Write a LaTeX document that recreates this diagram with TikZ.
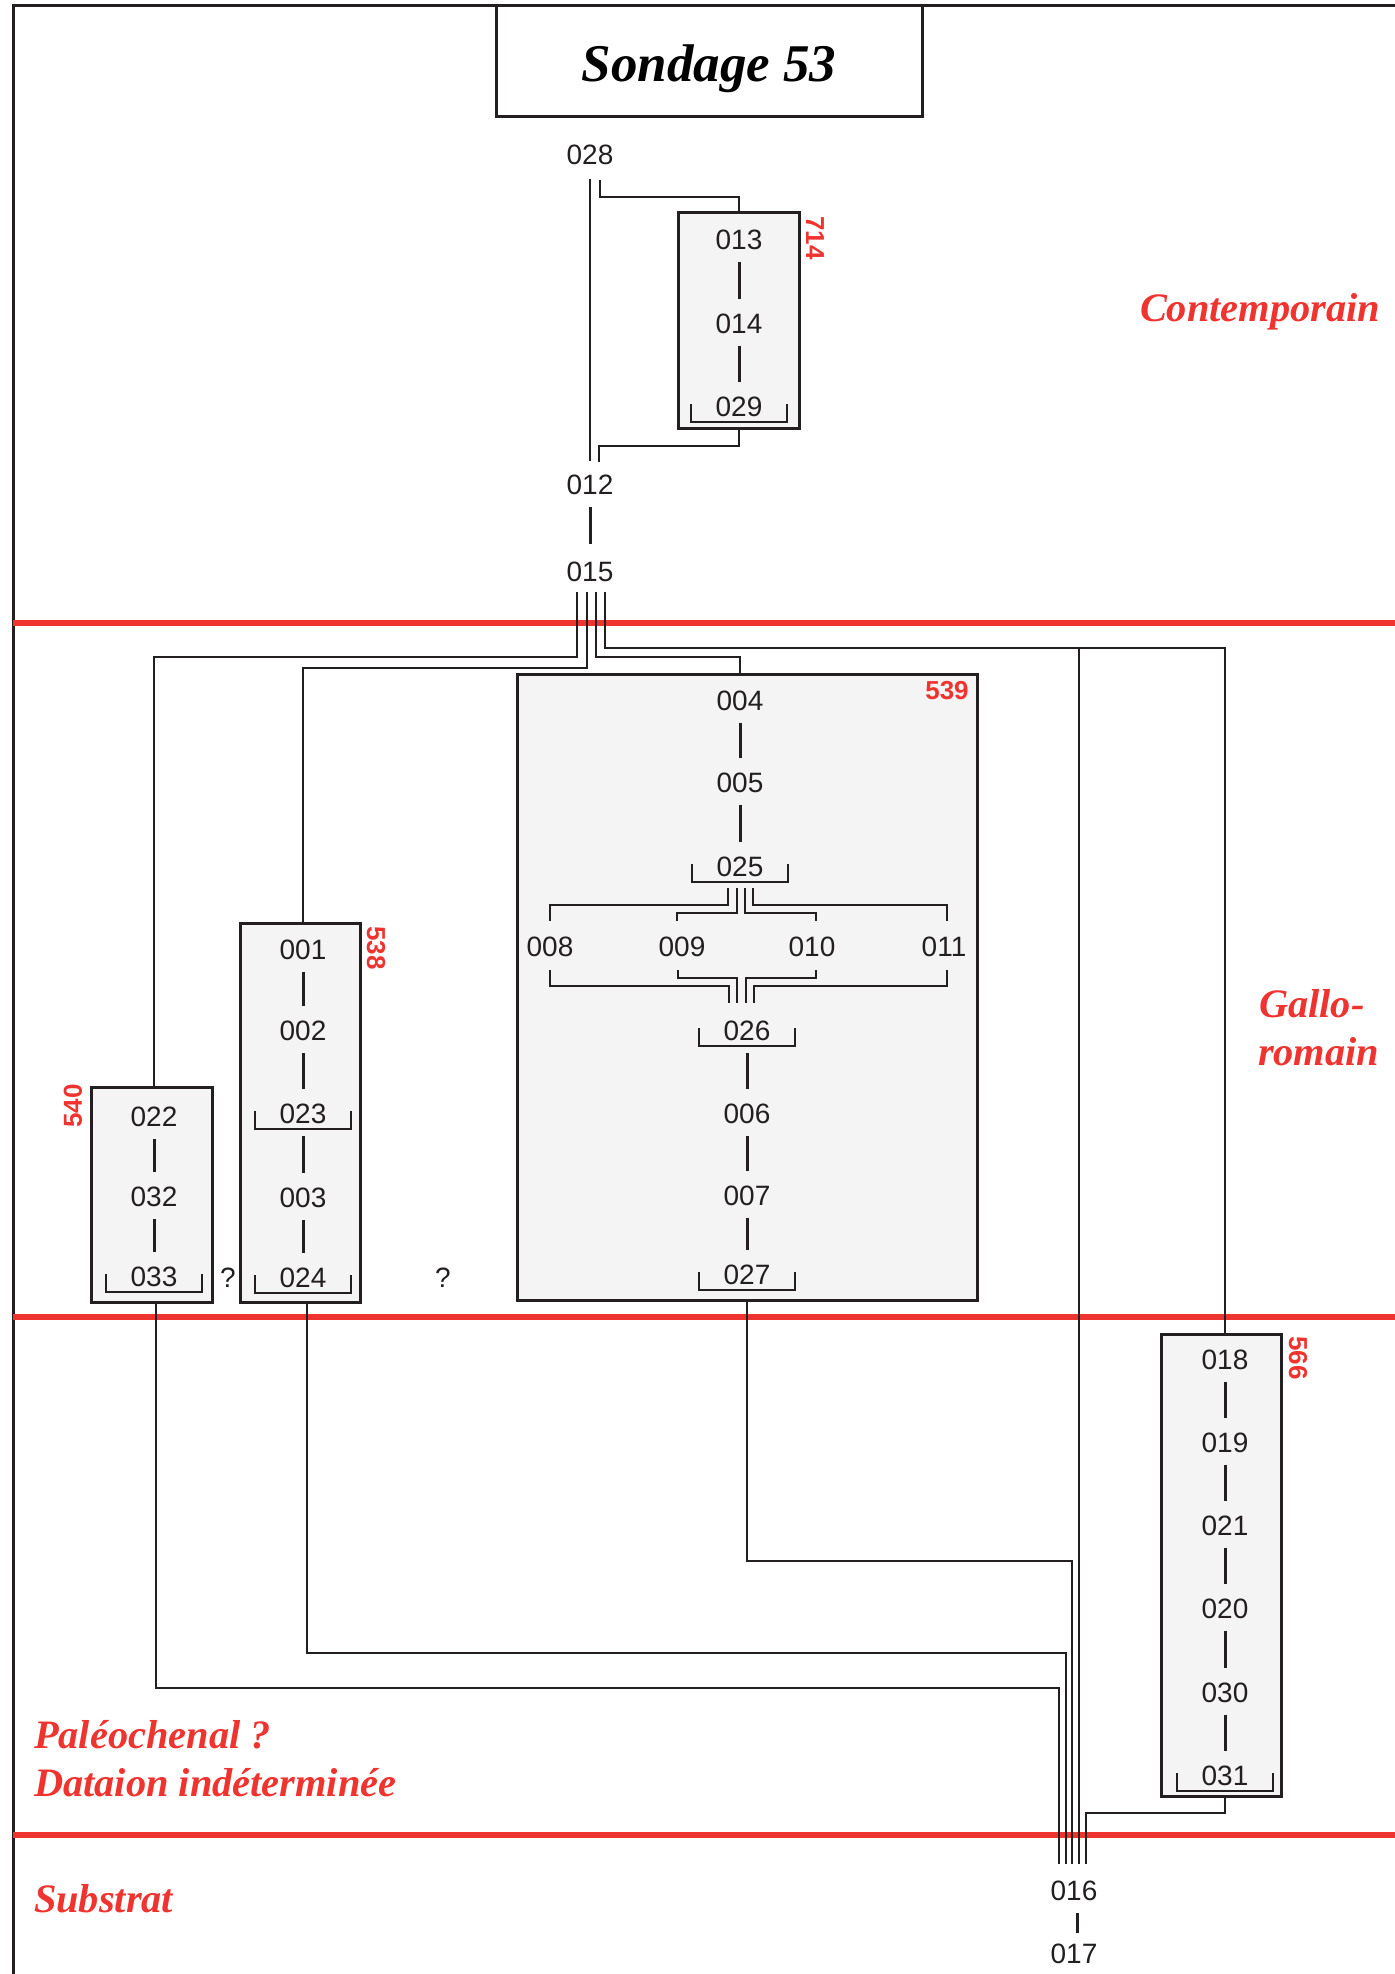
\documentclass[tikz,border=0pt]{standalone}
\usepackage{fontspec}
\setmainfont{Liberation Serif}
\setsansfont{Liberation Sans}
\usetikzlibrary{calc,fit}
\definecolor{zred}{RGB}{239,51,47}
\definecolor{ink}{RGB}{35,31,32}
\definecolor{boxgrey}{RGB}{244,244,244}
\tikzset{
  every node/.style={inner sep=0pt, outer sep=0pt},
  unit/.style={font=\sffamily\fontsize{14}{16}\selectfont, text=ink},
  cline/.style={draw=ink, line width=1.3pt},
  bar/.style={draw=ink, line width=1.5pt, shorten <=6pt, shorten >=7.7pt},
  grp/.style={draw=ink, line width=1.5pt, fill=boxgrey, inner sep=0pt},
  grplabel/.style={font=\sffamily\bfseries\fontsize{13}{15}\selectfont, text=zred},
  zone/.style={font=\rmfamily\bfseries\itshape\fontsize{20.2}{24}\selectfont, text=zred, anchor=base west},
  redline/.style={draw=zred, line width=2.75pt},
}
\newcommand{\unitbracket}[1]{\draw[cline] ($(#1)+(-48,-3)$) -- ($(#1)+(-48,15)$) -- ($(#1)+(48,15)$) -- ($(#1)+(48,-3)$);}
\begin{document}
\begin{tikzpicture}[x=0.5pt,y=-0.5pt]
\useasboundingbox (0,0) rectangle (1395,1974);
% frame
\draw[draw=ink, line width=1.5pt] (13,1974) -- (13,6) -- (1395,6);
% period limits
\draw[redline] (13,623) -- (1395,623);
\draw[redline] (13,1317) -- (1395,1317);
\draw[redline] (13,1835) -- (1395,1835);
% title
\node[draw=ink, line width=1.5pt, fill=white, fit={(496,6)(922,117)}] (titlebox) {};
\node[font=\rmfamily\bfseries\itshape\fontsize{26.5}{30}\selectfont, text=black, anchor=base] (title) at (709,82) {Sondage 53};
% groups
\node[grp, fit={(678,213)(799,428)}] (b714) {};
\node[grp, fit={(517,674)(977,1300)}] (b539) {};
\node[grp, fit={(240,923)(360,1302)}] (b538) {};
\node[grp, fit={(91,1087)(212,1302)}] (b540) {};
\node[grp, fit={(1161,1334)(1281,1796)}] (b566) {};
% group labels
\node[grplabel, rotate=-90] (l714) at (815,238) {714};
\node[grplabel] (l539) at (947,691) {539};
\node[grplabel, rotate=-90] (l538) at (376,948) {538};
\node[grplabel, rotate=90] (l540) at (73,1106) {540};
\node[grplabel, rotate=-90] (l566) at (1298,1358) {566};
% units
\node[unit] (n028) at (590,155) {028};
\node[unit] (n013) at (739,240) {013};
\node[unit] (n014) at (739,324) {014};
\node[unit] (n029) at (739,407) {029};
\node[unit] (n012) at (590,485) {012};
\node[unit] (n015) at (590,572) {015};
\node[unit] (n004) at (740,701) {004};
\node[unit] (n005) at (740,783) {005};
\node[unit] (n025) at (740,867) {025};
\node[unit] (n008) at (550,947) {008};
\node[unit] (n009) at (682,947) {009};
\node[unit] (n010) at (812,947) {010};
\node[unit] (n011) at (944,947) {011};
\node[unit] (n026) at (747,1031) {026};
\node[unit] (n006) at (747,1114) {006};
\node[unit] (n007) at (747,1196) {007};
\node[unit] (n027) at (747,1275) {027};
\node[unit] (n001) at (303,950) {001};
\node[unit] (n002) at (303,1031) {002};
\node[unit] (n023) at (303,1114) {023};
\node[unit] (n003) at (303,1198) {003};
\node[unit] (n024) at (303,1278) {024};
\node[unit] (n022) at (154,1117) {022};
\node[unit] (n032) at (154,1197) {032};
\node[unit] (n033) at (154,1277) {033};
\node[unit] (n018) at (1225,1360) {018};
\node[unit] (n019) at (1225,1443) {019};
\node[unit] (n021) at (1225,1526) {021};
\node[unit] (n020) at (1225,1609) {020};
\node[unit] (n030) at (1225,1693) {030};
\node[unit] (n031) at (1225,1776) {031};
\node[unit] (n016) at (1074,1891) {016};
\node[unit] (n017) at (1074,1954) {017};
\node[unit] (q1) at (228,1278) {?};
\node[unit] (q2) at (443,1278) {?};
% zone names
\node[zone] (zc) at (1140,322) {Contemporain};
\node[zone] (zg1) at (1259,1017) {Gallo-};
\node[zone] (zg2) at (1258,1065) {romain};
\node[zone] (zp1) at (34,1748) {Paléochenal ?};
\node[zone] (zp2) at (34,1796) {Dataion indéterminée};
\node[zone] (zs) at (34,1912) {Substrat};
% brackets
\unitbracket{n029}
\unitbracket{n025}
\unitbracket{n026}
\unitbracket{n027}
\unitbracket{n023}
\unitbracket{n024}
\unitbracket{n033}
\unitbracket{n031}
% bars
\draw[bar] (n013) -- (n014);
\draw[bar] (n014) -- (n029);
\draw[bar, shorten >=9.2pt] (n012) -- (n015);
\draw[bar] (n004) -- (n005);
\draw[bar] (n005) -- (n025);
\draw[bar] (n026) -- (n006);
\draw[bar] (n006) -- (n007);
\draw[bar] (n007) -- (n027);
\draw[bar] (n001) -- (n002);
\draw[bar] (n002) -- (n023);
\draw[bar] (n023) -- (n003);
\draw[bar] (n003) -- (n024);
\draw[bar] (n022) -- (n032);
\draw[bar] (n032) -- (n033);
\draw[bar] (n018) -- (n019);
\draw[bar] (n019) -- (n021);
\draw[bar] (n021) -- (n020);
\draw[bar] (n020) -- (n030);
\draw[bar] (n030) -- (n031);
\draw[bar, shorten <=0pt, shorten >=0pt] ($(n016)+(3,22)$) -- ($(n017)+(3,-21)$);
% connectors top
\draw[cline, shorten <=7.2pt, shorten >=7.2pt] (n028) -- (n012);
\draw[cline] ($(n028)+(10,25)$) |- ($(n013 |- b714.north)+(0,-16)$) -- (n013 |- b714.north);
\draw[cline] (n029 |- b714.south) |- ($(n012)+(9,-39)$) -- ($(n012)+(9,-23)$);
% 015 fan-out
\draw[cline] ($(n015)+(-13,20)$) |- ($(n022 |- b540.north)+(0,-430)$) -- (n022 |- b540.north);
\draw[cline] ($(n015)+(-3,20)$) |- ($(n001 |- b538.north)+(0,-255)$) -- (n001 |- b538.north);
\draw[cline] ($(n015)+(6,20)$) |- ($(n004 |- b539.north)+(0,-17)$) -- (n004 |- b539.north);
\draw[cline] ($(n015)+(15,20)$) |- ($(n018 |- b566.north)+(0,-686)$) -- (n018 |- b566.north);
\draw[cline] ($(n015)+(15,20)$) |- ($(n016)+(5,-1243)$) -- ($(n016)+(5,-27)$);
% inside 539
\draw[cline] ($(n025)+(-12,21)$) |- ($(n008)+(0,-42)$) -- ($(n008)+(0,-26)$);
\draw[cline] ($(n025)+(-3,21)$) |- ($(n009)+(-5,-34)$) -- ($(n009)+(-5,-26)$);
\draw[cline] ($(n025)+(5,21)$) |- ($(n010)+(4,-34)$) -- ($(n010)+(4,-26)$);
\draw[cline] ($(n025)+(13,21)$) |- ($(n011)+(3,-42)$) -- ($(n011)+(3,-26)$);
\draw[cline] ($(n008)+(0,23)$) |- ($(n026)+(-18,-45)$) -- ($(n026)+(-18,-28)$);
\draw[cline] ($(n009)+(-4,23)$) |- ($(n026)+(-10,-53)$) -- ($(n026)+(-10,-28)$);
\draw[cline] ($(n010)+(4,23)$) |- ($(n026)+(-1,-53)$) -- ($(n026)+(-1,-28)$);
\draw[cline] ($(n011)+(3,23)$) |- ($(n026)+(7,-45)$) -- ($(n026)+(7,-28)$);
% fan-in to 016
\draw[cline] (n027 |- b539.south) |- ($(n016)+(-2,-330)$) -- ($(n016)+(-2,-27)$);
\draw[cline] ($(n024 |- b538.south)+(4,0)$) |- ($(n016)+(-8,-238)$) -- ($(n016)+(-8,-27)$);
\draw[cline] ($(n033 |- b540.south)+(2,0)$) |- ($(n016)+(-15,-203)$) -- ($(n016)+(-15,-27)$);
\draw[cline] (n031 |- b566.south) |- ($(n016)+(12,-78)$) -- ($(n016)+(12,-27)$);
\end{tikzpicture}
\end{document}
